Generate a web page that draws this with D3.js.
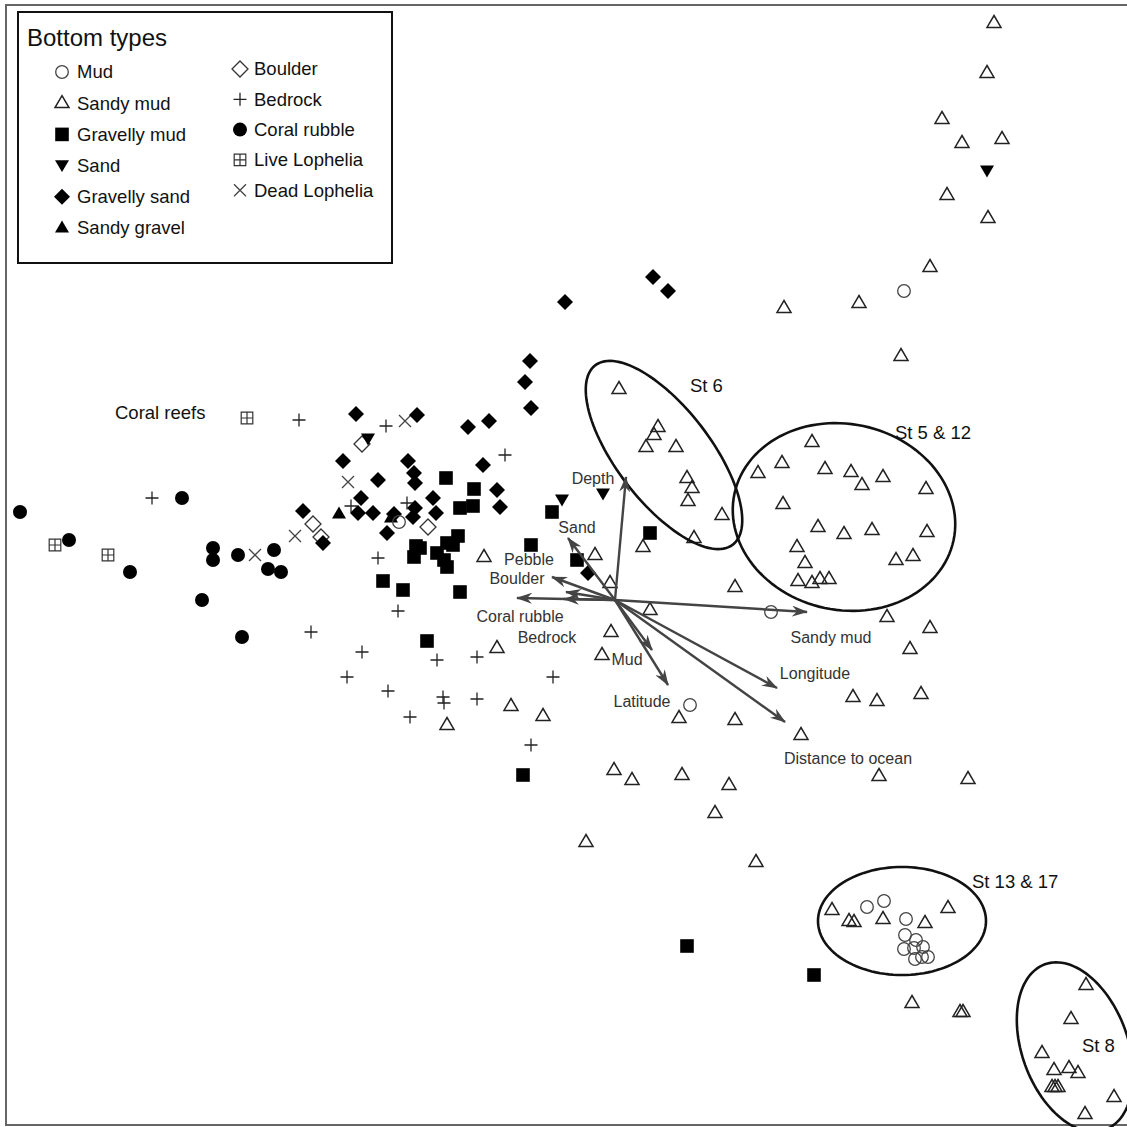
<!DOCTYPE html>
<html>
<head>
<meta charset="utf-8">
<script src="https://cdn.jsdelivr.net/npm/d3@7"></script>
<style>
  body { margin: 0; background: #fff; }
  svg { display: block; font-family: "Liberation Sans", Arial, Helvetica, sans-serif; }
</style>
</head>
<body>
<div id="chart"></div>
<script>
// ordination scores (axis 1, axis 2)
const mud = [[2.89,3.09],[-2.16,0.78],[0.75,-1.05],[1.56,-0.12],[2.52,-3.07],[2.69,-3.01],[2.91,-3.19],
  [2.90,-3.35],[3.01,-3.40],[2.89,-3.49],[2.99,-3.48],[3.08,-3.47],[3.00,-3.59],[3.07,-3.57],[3.13,-3.57]];

const sandyMud = [
  [3.79,5.77],[3.72,5.27],[3.27,4.81],[3.47,4.57],[3.87,4.61],[3.32,4.05],[3.73,3.82],[3.15,3.33],
  [2.44,2.97],[1.69,2.92],[2.86,2.44],
  [0.04,2.11],[0.43,1.73],[0.39,1.65],[0.31,1.53],[0.61,1.53],[0.72,1.22],[0.77,1.12],[0.73,0.99],
  [1.07,0.85],[0.79,0.62],
  [0.28,0.53],[-0.20,0.45],[-1.31,0.43],[-0.05,0.17],[1.20,0.13],[0.35,-0.10],[-0.04,-0.32],[-0.13,-0.55],
  [-1.18,-0.48],[-1.04,-1.06],[-0.72,-1.16],[-1.68,-1.25],[0.64,-1.18],[1.20,-1.20],[1.86,-1.35],
  [1.97,1.58],[1.67,1.37],[1.43,1.27],[2.10,1.31],[2.36,1.28],[2.47,1.15],[2.68,1.23],[3.11,1.11],
  [1.68,0.96],[2.03,0.73],[2.29,0.66],[2.57,0.70],[3.12,0.68],[1.82,0.53],[1.90,0.37],[2.81,0.40],
  [2.98,0.44],[1.83,0.19],[1.97,0.17],[2.05,0.21],[2.14,0.21],
  [2.72,-0.17],[3.15,-0.28],[2.95,-0.49],[2.38,-0.97],[2.62,-1.01],[3.06,-0.94],[2.64,-1.76],[3.53,-1.79],
  [-0.01,-1.70],[0.17,-1.80],[0.67,-1.75],[1.14,-1.85],[1.00,-2.13],[-0.29,-2.42],[1.41,-2.62],
  [2.17,-3.10],[2.34,-3.21],[2.39,-3.22],[2.68,-3.19],[3.10,-3.23],[3.33,-3.08],
  [2.97,-4.03],[3.45,-4.12],[3.48,-4.12],
  [4.71,-3.85],[4.56,-4.19],[4.27,-4.53],[4.39,-4.70],[4.54,-4.68],[4.63,-4.73],[4.37,-4.87],
  [4.43,-4.87],[4.40,-4.87],[4.99,-4.97],[4.70,-5.14]
];

const gravellyMud = [[-1.69,1.22],[-1.41,1.11],[-1.55,0.92],[-1.42,0.94],[-0.63,0.88],[-0.84,0.55],
  [-0.38,0.40],[0.35,0.67],[-1.99,0.54],[-1.95,0.52],[-2.01,0.43],[-1.57,0.64],[-1.68,0.57],[-1.62,0.55],
  [-1.78,0.47],[-1.71,0.40],[-1.68,0.33],[-2.32,0.19],[-2.12,0.10],[-1.55,0.08],[-1.88,-0.41],
  [-0.92,-1.75],[0.72,-3.46],[1.99,-3.75]];

const sand = [[-2.47,1.61],[-0.53,1.00],[-0.12,1.06],[3.72,4.29]];

const gravellySand = [[-0.50,2.98],[0.38,3.23],[0.53,3.09],[-0.85,2.39],[-0.90,2.18],[-0.84,1.92],
  [-1.26,1.79],[-1.47,1.73],[-1.98,1.85],[-2.59,1.86],[-2.72,1.39],[-2.07,1.39],[-2.01,1.27],[-2.00,1.17],
  [-2.37,1.20],[-1.32,1.35],[-1.18,1.10],[-1.15,0.93],[-1.82,1.02],[-1.79,0.87],[-2.54,1.02],[-2.57,0.87],
  [-2.42,0.87],[-2.00,0.92],[-2.02,0.83],[-2.28,0.67],[-3.12,0.89],[-2.92,0.57],[-0.27,0.27],[-2.21,0.86]];

const sandyGravel = [[-2.76,0.86],[-2.24,0.82]];

const boulder = [[-2.53,1.56],[-3.02,0.76],[-2.94,0.63],[-1.87,0.73]];

const bedrock = [[-4.63,1.02],[-3.16,1.80],[-2.29,1.74],[-1.10,1.45],[-2.64,0.94],[-2.08,0.97],[-2.37,0.42],
  [-2.17,-0.11],[-3.04,-0.32],[-2.53,-0.52],[-1.78,-0.60],[-1.38,-0.57],[-2.68,-0.77],[-2.27,-0.91],
  [-1.72,-0.97],[-1.71,-1.03],[-1.38,-0.99],[-2.05,-1.17],[-0.62,-0.77],[-0.84,-1.45]];

const coralRubble = [[-5.95,0.88],[-5.46,0.60],[-4.85,0.28],[-4.33,1.02],[-4.02,0.52],[-4.02,0.40],
  [-3.77,0.45],[-4.13,0.00],[-3.73,-0.37],[-3.41,0.50],[-3.47,0.31],[-3.34,0.28]];

const liveLophelia = [[-3.68,1.82],[-5.60,0.55],[-5.07,0.45]];

const deadLophelia = [[-3.60,0.45],[-3.20,0.64],[-2.67,1.18],[-2.10,1.79]];

// environmental vectors
const envNames = ["Depth","Sand","Pebble","Boulder","Coral rubble","Bedrock","Sandy mud","Mud","Latitude","Longitude","Distance to ocean"];
const envTips = [[0.11,1.23],[-0.47,0.62],[-0.49,0.08],[-0.63,0.23],[-0.98,0.02],[-0.51,0.01],
  [1.92,-0.12],[0.37,-0.50],[0.53,-0.85],[1.62,-0.88],[1.70,-1.22]];
const envLabelAt = [[-0.22,1.22],[-0.38,0.73],[-0.86,0.41],[-0.98,0.22],[-0.95,-0.16],[-0.68,-0.37],
  [2.16,-0.37],[0.12,-0.59],[0.27,-1.01],[2.00,-0.73],[2.33,-1.58]];

// station groupings: centre, semi-axes, angle (deg, counter-clockwise)
const stationNames = ["St 6","St 5 & 12","St 13 & 17","St 8"];
const stationEllipses = [[0.49,1.45,1.13,0.47,-52.5],[2.29,0.83,1.12,0.93,-12],[2.87,-3.21,0.84,0.54,0],[4.60,-4.47,0.53,0.88,20]];
const stationLabelAt = [[0.75,2.14],[2.80,1.67],[3.57,-2.82],[4.67,-4.46]];

const W = 1127, H = 1127;
const x = d3.scaleLinear().domain([-6.15, 5.12]).range([0, W]);
const y = d3.scaleLinear().domain([6.00, -5.27]).range([0, H]);

const svg = d3.select('#chart').append('svg')
    .attr('width', W)
    .attr('height', H);

svg.append('rect')
    .attr('x', 6).attr('y', 5)
    .attr('width', W + 10).attr('height', 1120)
    .attr('fill', '#fff')
    .attr('stroke', '#666')
    .attr('stroke-width', 2);

// symbol shapes in pixels
function shape(type) {
  switch (type) {
    case 'circle':  return 'M6.3,0A6.3,6.3 0 1,1 -6.3,0A6.3,6.3 0 1,1 6.3,0Z';
    case 'dot':     return 'M7,0A7,7 0 1,1 -7,0A7,7 0 1,1 7,0Z';
    case 'triUp':   return 'M0,-7.5L7,4.4L-7,4.4Z';
    case 'triDown': return 'M0,6.4L7,-5.4L-7,-5.4Z';
    case 'square':  return 'M-6.8,-6.8h13.6v13.6h-13.6Z';
    case 'diamond': return 'M0,-8L8,0L0,8L-8,0Z';
    case 'plus':    return 'M-6.5,0H6.5M0,-6.5V6.5';
    case 'cross':   return 'M-6,-6L6,6M6,-6L-6,6';
    case 'boxplus': return 'M-5.8,-5.8h11.6v11.6h-11.6ZM0,-5.8V5.8M-5.8,0H5.8';
  }
}

const categories = [
  {name: 'Mud',            data: mud,          shape: 'circle',  fill: 'none', stroke: '#444', sw: 1.3},
  {name: 'Sandy mud',      data: sandyMud,     shape: 'triUp',   fill: 'none', stroke: '#222', sw: 1.5},
  {name: 'Gravelly mud',   data: gravellyMud,  shape: 'square',  fill: '#000', stroke: 'none', sw: 0},
  {name: 'Sand',           data: sand,         shape: 'triDown', fill: '#000', stroke: 'none', sw: 0},
  {name: 'Gravelly sand',  data: gravellySand, shape: 'diamond', fill: '#000', stroke: 'none', sw: 0},
  {name: 'Sandy gravel',   data: sandyGravel,  shape: 'triUp',   fill: '#000', stroke: 'none', sw: 0},
  {name: 'Boulder',        data: boulder,      shape: 'diamond', fill: '#fff', stroke: '#333', sw: 1.3},
  {name: 'Bedrock',        data: bedrock,      shape: 'plus',    fill: 'none', stroke: '#222', sw: 1.3},
  {name: 'Coral rubble',   data: coralRubble,  shape: 'dot',     fill: '#000', stroke: 'none', sw: 0},
  {name: 'Live Lophelia',  data: liveLophelia, shape: 'boxplus', fill: 'none', stroke: '#333', sw: 1.2},
  {name: 'Dead Lophelia',  data: deadLophelia, shape: 'cross',   fill: 'none', stroke: '#444', sw: 1.3}
];

// drawing order: open symbols underneath, filled on top
const drawOrder = ['Sandy mud','Boulder','Bedrock','Live Lophelia','Dead Lophelia','Gravelly mud',
  'Gravelly sand','Coral rubble','Sandy gravel','Mud','Sand'];

const pts = svg.append('g');
drawOrder.forEach(n => {
  const c = categories.find(k => k.name === n);
  pts.selectAll(null)
    .data(c.data)
    .enter()
    .append('path')
    .attr('d', shape(c.shape))
    .attr('transform', d => `translate(${x(d[0])},${y(d[1])})`)
    .attr('fill', c.fill)
    .attr('stroke', c.stroke)
    .attr('stroke-width', c.sw);
});

// station ellipses
const ell = d3.line().x(d => x(d[0])).y(d => y(d[1])).curve(d3.curveLinearClosed);
stationEllipses.forEach((e, i) => {
  const [cx, cy, a, b, ang] = e;
  const t = ang * Math.PI / 180;
  const ring = d3.range(0, 120).map(k => {
    const s = k / 120 * 2 * Math.PI;
    return [cx + a * Math.cos(t) * Math.cos(s) - b * Math.sin(t) * Math.sin(s),
            cy + a * Math.sin(t) * Math.cos(s) + b * Math.cos(t) * Math.sin(s)];
  });
  svg.append('path')
    .attr('d', ell(ring))
    .attr('fill', 'none')
    .attr('stroke', '#111')
    .attr('stroke-width', 2.6);
  svg.append('text')
    .attr('x', x(stationLabelAt[i][0]))
    .attr('y', y(stationLabelAt[i][1]))
    .attr('dy', '0.35em')
    .attr('font-size', 18.5)
    .attr('fill', '#111')
    .text(stationNames[i]);
});

svg.append('text')
    .attr('x', x(-5.00)).attr('y', y(1.87))
    .attr('dy', '0.35em')
    .attr('font-size', 18.5)
    .attr('fill', '#111')
    .text('Coral reefs');

// biplot arrows
svg.append('defs').append('marker')
    .attr('id', 'head')
    .attr('markerUnits', 'userSpaceOnUse')
    .attr('viewBox', '0 0 16 11')
    .attr('refX', 15).attr('refY', 5.5)
    .attr('markerWidth', 16).attr('markerHeight', 11)
    .attr('orient', 'auto')
    .append('path')
    .attr('d', 'M0,0L16,5.5L0,11L5,5.5Z')
    .attr('fill', '#444');

svg.append('g')
  .selectAll('line')
  .data(envTips)
  .enter()
  .append('line')
    .attr('x1', x(0)).attr('y1', y(0))
    .attr('x2', d => x(d[0])).attr('y2', d => y(d[1]))
    .attr('stroke', '#444')
    .attr('stroke-width', 2.4)
    .attr('marker-end', 'url(#head)');

svg.append('g')
  .selectAll('text')
  .data(envNames)
  .enter()
  .append('text')
    .attr('x', (d, i) => x(envLabelAt[i][0]))
    .attr('y', (d, i) => y(envLabelAt[i][1]))
    .attr('dy', '0.35em')
    .attr('text-anchor', 'middle')
    .attr('font-size', 16)
    .attr('fill', '#333')
    .text(d => d);

// legend
const lg = svg.append('g');
lg.append('rect')
    .attr('x', 18).attr('y', 12)
    .attr('width', 374).attr('height', 251)
    .attr('fill', '#fff')
    .attr('stroke', '#111')
    .attr('stroke-width', 2);
lg.append('text')
    .attr('x', 27).attr('y', 46)
    .attr('font-size', 24)
    .attr('fill', '#111')
    .text('Bottom types');

const col1 = categories.slice(0, 6), col2 = categories.slice(6);
const items = col1.map((c, i) => ({c, sx: 62, tx: 77, cy: 72 + i * 31.2}))
  .concat(col2.map((c, i) => ({c, sx: 240, tx: 254, cy: 69 + i * 30.3})));
const li = lg.selectAll('g.item').data(items).enter().append('g').attr('class', 'item');
li.append('path')
    .attr('d', d => shape(d.c.shape))
    .attr('transform', d => `translate(${d.sx},${d.cy})`)
    .attr('fill', d => d.c.fill)
    .attr('stroke', d => d.c.stroke)
    .attr('stroke-width', d => d.c.sw);
li.append('text')
    .attr('x', d => d.tx).attr('y', d => d.cy)
    .attr('dy', '0.35em')
    .attr('font-size', 18.5)
    .attr('fill', '#111')
    .text(d => d.c.name);
</script>
</body>
</html>
